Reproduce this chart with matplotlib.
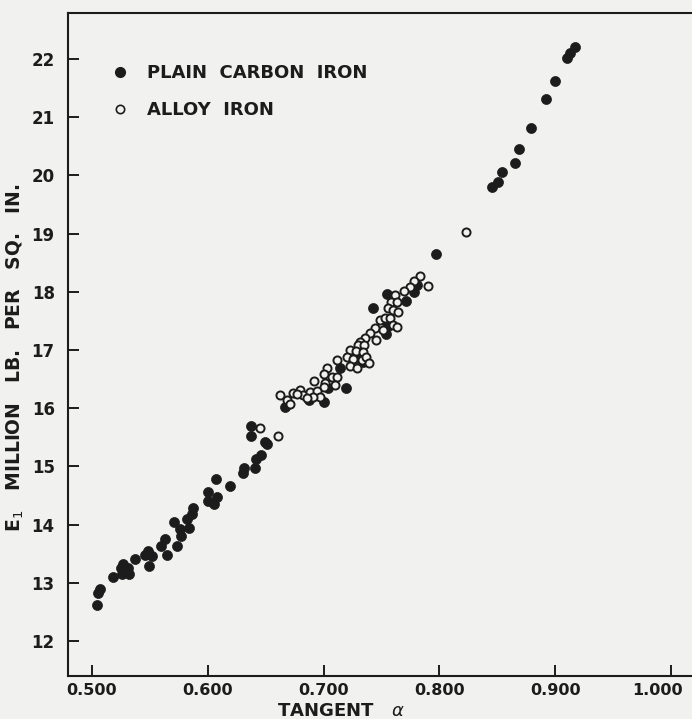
import matplotlib
matplotlib.use("Agg")
import matplotlib.pyplot as plt
import matplotlib.transforms as mtransforms
from matplotlib.lines import Line2D

OUT_PNG = "out.png"
PAPER = "#f1f1ef"
INK = "#1c1c1c"

# plain carbon iron (filled dots): tangent alpha, E1 (million lb/sq in)
carbon_tan = [0.917, 0.913, 0.910, 0.900, 0.892, 0.879, 0.869, 0.865, 0.854, 0.851,
              0.845, 0.797, 0.781, 0.778, 0.771, 0.755, 0.743, 0.755, 0.755, 0.754,
              0.729, 0.734, 0.714, 0.719, 0.704, 0.687, 0.700, 0.667, 0.669, 0.637,
              0.637, 0.649, 0.651, 0.646, 0.642, 0.641, 0.631, 0.630, 0.607, 0.619,
              0.600, 0.608, 0.600, 0.605, 0.587, 0.586, 0.571, 0.582, 0.576, 0.584,
              0.577, 0.563, 0.560, 0.573, 0.565, 0.546, 0.548, 0.552, 0.549, 0.537,
              0.527, 0.525, 0.531, 0.526, 0.532, 0.518, 0.507, 0.505, 0.504]
carbon_e = [22.21, 22.10, 22.02, 21.62, 21.31, 20.81, 20.45, 20.21, 20.06, 19.89,
            19.80, 18.65, 18.12, 18.00, 17.84, 17.96, 17.72, 17.52, 17.40, 17.27,
            16.86, 16.79, 16.69, 16.35, 16.35, 16.14, 16.11, 16.02, 16.07, 15.69,
            15.52, 15.42, 15.38, 15.20, 15.13, 14.97, 14.97, 14.89, 14.78, 14.66,
            14.56, 14.47, 14.41, 14.35, 14.29, 14.18, 14.04, 14.10, 13.92, 13.94,
            13.80, 13.75, 13.63, 13.63, 13.48, 13.48, 13.55, 13.46, 13.29, 13.41,
            13.32, 13.25, 13.25, 13.15, 13.15, 13.10, 12.89, 12.82, 12.62]

# alloy iron (open dots)
alloy_tan = [0.823, 0.783, 0.778, 0.775, 0.769, 0.762, 0.758, 0.763, 0.756, 0.760,
             0.764, 0.790, 0.749, 0.753, 0.757, 0.760, 0.763, 0.744, 0.751, 0.740,
             0.745, 0.736, 0.731, 0.730, 0.735, 0.723, 0.728, 0.734, 0.720, 0.725,
             0.733, 0.737, 0.739, 0.712, 0.723, 0.703, 0.729, 0.700, 0.707, 0.712,
             0.692, 0.701, 0.710, 0.700, 0.662, 0.668, 0.674, 0.680, 0.682, 0.688,
             0.694, 0.697, 0.691, 0.677, 0.686, 0.671, 0.661, 0.645]
alloy_e = [19.03, 18.27, 18.19, 18.08, 18.01, 17.95, 17.82, 17.82, 17.72, 17.69,
           17.65, 18.10, 17.52, 17.55, 17.55, 17.43, 17.40, 17.38, 17.34, 17.29,
           17.17, 17.21, 17.14, 17.09, 17.09, 17.00, 16.98, 16.97, 16.88, 16.85,
           16.83, 16.88, 16.78, 16.83, 16.73, 16.69, 16.69, 16.59, 16.54, 16.54,
           16.47, 16.43, 16.40, 16.36, 16.23, 16.14, 16.26, 16.31, 16.23, 16.28,
           16.30, 16.19, 16.19, 16.24, 16.18, 16.07, 15.52, 15.66]

x_ticks = [0.5, 0.6, 0.7, 0.8, 0.9, 1.0]
y_ticks = [12, 13, 14, 15, 16, 17, 18, 19, 20, 21, 22]

plt.rcParams["font.family"] = "DejaVu Sans"

fig = plt.figure(figsize=(6.92, 7.19), dpi=100, facecolor=PAPER)
ax = fig.add_axes([68 / 692, 43 / 719, 1 - 68 / 692, (676 - 13) / 719])
ax.set_facecolor(PAPER)

ax.scatter(carbon_tan, carbon_e, s=52, color=INK, edgecolors=INK, linewidths=0.5, zorder=3)
ax.scatter(alloy_tan, alloy_e, s=34, facecolors=PAPER, edgecolors=INK, linewidths=1.4, zorder=4)

ax.set_xlim(0.4793, 1.0181)
ax.set_ylim(11.399, 22.79)
ax.set_xticks(x_ticks)
ax.set_xticklabels([f"{v:.3f}" for v in x_ticks])
ax.set_yticks(y_ticks)
ax.set_yticklabels([str(v) for v in y_ticks])

for s in ["left", "bottom", "top"]:
    ax.spines[s].set_linewidth(1.5)
    ax.spines[s].set_color(INK)
ax.spines["right"].set_visible(False)
ax.tick_params(axis="both", direction="in", length=8, width=1.4, colors=INK,
               labelsize=12, labelcolor=INK)
ax.tick_params(axis="y", pad=9.5)
ax.tick_params(axis="x", pad=5.0)
for lab in ax.get_yticklabels():
    lab.set_fontweight("bold")
for lab in ax.get_xticklabels():
    lab.set_fontweight("semibold")
    lab.set_fontsize(11.5)

# the last label sits a little left of its tick in the original, keeps it on the page
last = ax.get_xticklabels()[-1]
last.set_transform(last.get_transform() +
                   mtransforms.ScaledTranslation(-14 / 100, 0, fig.dpi_scale_trans))

fig.text(15 / 692, 1 - 358 / 719, "E$_1$   MILLION   LB.   PER   SQ.   IN.",
         rotation=90, ha="center", va="center", fontsize=13.5, fontweight="bold", color=INK)
fig.text(277 / 692, 1 - 711 / 719, "TANGENT   $\\alpha$", ha="left", va="center",
         fontsize=13, fontweight="bold", color=INK)

handles = [
    Line2D([], [], ls="none", marker="o", ms=7, color=INK, label="PLAIN  CARBON  IRON"),
    Line2D([], [], ls="none", marker="o", ms=6, mfc=PAPER, mec=INK, mew=1.2, label="ALLOY  IRON"),
]
leg = fig.legend(handles=handles, loc="upper left", bbox_to_anchor=(111 / 692, 1 - 64 / 719),
                 frameon=False, borderpad=0, borderaxespad=0, handlelength=1.0,
                 handletextpad=1.0, labelspacing=1.05,
                 prop={"size": 13, "weight": "bold"})
for t in leg.get_texts():
    t.set_color(INK)

plt.savefig(OUT_PNG, dpi=100, facecolor=PAPER)
print(f"Saved {OUT_PNG}")
